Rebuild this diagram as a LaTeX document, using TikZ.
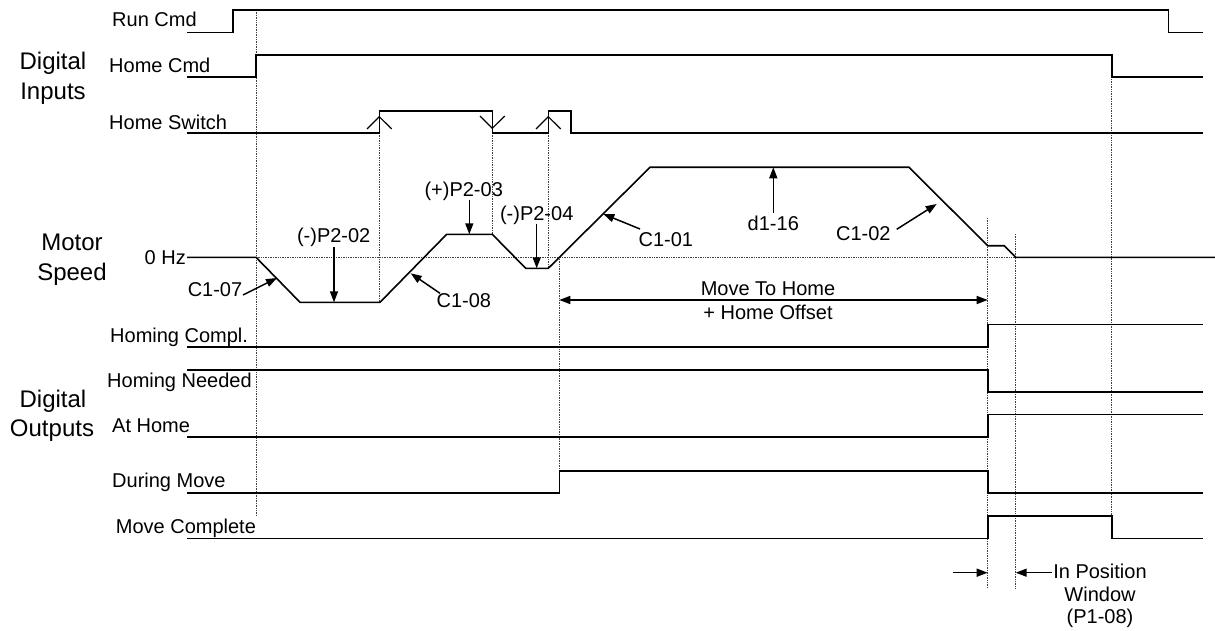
\documentclass[tikz,border=0pt]{standalone}
\usepackage{fontspec}
\setmainfont{Liberation Sans}
\usetikzlibrary{arrows.meta}
\begin{document}
\begin{tikzpicture}[x=1pt,y=-1pt,
  sig/.style={line width=1.6pt, line join=miter},
  guide/.style={line width=0.7pt, densely dotted, black!75},
  lbl/.style={font=\fontsize{20}{22}\selectfont, inner sep=0pt, anchor=base west},
  big/.style={font=\fontsize{24}{26}\selectfont, inner sep=0pt, anchor=base},
  ann/.style={font=\fontsize{20}{22}\selectfont, inner sep=0pt, anchor=base},
  ptr/.style={line width=1.5pt, -{Triangle[length=11pt,width=8pt]}},
  dptr/.style={line width=1.5pt, {Triangle[length=11pt,width=8pt]}-{Triangle[length=11pt,width=8pt]}},
  chev/.style={line width=1.2pt}
]
\useasboundingbox (0,0) rectangle (1215,631);

% ---- group labels ----
\node[big] (din1) at (53,70) {Digital};
\node[big] (din2) at (53,100) {Inputs};
\node[big] (ms1) at (72,250) {Motor};
\node[big] (ms2) at (72,280) {Speed};
\node[big] (dout1) at (53,407.3) {Digital};
\node[big] (dout2) at (52,436.7) {Outputs};

% ---- signal labels ----
\node[lbl] (runcmd) at (112,26.7) {Run Cmd};
\node[lbl] (homecmd) at (109,72.3) {Home Cmd};
\node[lbl] (homesw) at (109,129.3) {Home Switch};
\node[font=\fontsize{20}{22}\selectfont, inner sep=0pt, anchor=base east] (zerohz) at (186,264) {0 Hz};
\node[lbl] (hcompl) at (110,342.7) {Homing Compl.};
\node[lbl] (hneed) at (107,387.3) {Homing Needed};
\node[lbl] (athome) at (112,432.7) {At Home};
\node[lbl] (dmove) at (112,487.5) {During Move};
\node[lbl] (mcompl) at (115.7,533.3) {Move Complete};

% ---- guide lines ----
\draw[guide] (256,10) -- (256,515);
\draw[guide] (379.3,133) -- (379.3,302);
\draw[guide] (492.3,133) -- (492.3,234.3);
\draw[guide] (548.3,133) -- (548.3,268.3);
\draw[guide] (559.3,257.3) -- (559.3,471);
\draw[guide] (987.7,218) -- (987.7,588);
\draw[guide] (1015.7,234) -- (1015.7,588);
\draw[guide] (1111.7,77.3) -- (1111.7,516);
\draw[guide] (256,257.3) -- (1015.7,257.3);

% ---- input signals ----
\draw[sig] (187,32.7) -- (233,32.7) -- (233,10) -- (1168.3,10) -- (1168.3,32.7) -- (1202.7,32.7);
\draw[sig] (187,77.3) -- (256,77.3) -- (256,55.3) -- (1111.7,55.3) -- (1111.7,77.3) -- (1202.7,77.3);
\draw[sig] (187,133.3) -- (379.3,133.3) -- (379.3,111) -- (492.3,111) -- (492.3,133.3) -- (548.3,133.3) -- (548.3,111) -- (571,111) -- (571,133.3) -- (1202.7,133.3);
\draw[chev] (367,129) -- (379.3,116.7) -- (391.7,129);
\draw[chev] (480,116) -- (492.3,128.3) -- (504.7,116);
\draw[chev] (536,129) -- (548.3,116.7) -- (560.7,129);

% ---- motor speed ----
\draw[sig] (187,257.3) -- (256,257.3) -- (300,302.3) -- (380,302.3) -- (446.7,234.3) -- (492.3,234.3) -- (525.7,268.3) -- (548.3,268.3) -- (650,167.3) -- (909,167.3) -- (987.7,245.7) -- (1004.3,245.7) -- (1015.7,257.3) -- (1215,257.3);

% ---- output signals ----
\draw[sig] (187,347) -- (987.7,347) -- (987.7,324.3) -- (1202.7,324.3);
\draw[sig] (187,369.7) -- (987.7,369.7) -- (987.7,391.7) -- (1202.7,391.7);
\draw[sig] (187,436.7) -- (987.7,436.7) -- (987.7,414.3) -- (1202.7,414.3);
\draw[sig] (187,493) -- (559.3,493) -- (559.3,471) -- (987.7,471) -- (987.7,492.7) -- (1202.7,492.7);
\draw[sig] (187,538.3) -- (987.7,538.3) -- (987.7,516) -- (1111.7,516) -- (1111.7,538.3) -- (1202.7,538.3);

% ---- annotations ----
\node[ann] (a0702) at (333.7,242) {(-)P2-02};
\node[ann] (a0203) at (463.7,196.7) {(+)P2-03};
\node[ann] (a0204) at (536.7,221) {(-)P2-04};
\node[ann] (ac108) at (463.8,307.3) {C1-08};
\node[ann] (ac107) at (215,296.7) {C1-07};
\node[ann] (ac101) at (665.8,246.7) {C1-01};
\node[ann] (ad116) at (773.3,230) {d1-16};
\node[ann] (ac102) at (863.3,240.7) {C1-02};
\node[ann] (amth1) at (768,295) {Move To Home};
\node[ann] (amth2) at (768,319.3) {+ Home Offset};
\node[ann] (aipw1) at (1100,578.3) {In Position};
\node[ann] (aipw2) at (1100,601.7) {Window};
\node[ann] (aipw3) at (1100,623) {(P1-08)};

\coordinate (p202s) at (334,246.7);   \coordinate (p202e) at (334,302.3);
\coordinate (p203s) at (469.3,200);   \coordinate (p203e) at (469.3,234.3);
\coordinate (p204s) at (536.7,223.5); \coordinate (p204e) at (536.7,268.3);
\coordinate (c107s) at (243,295);     \coordinate (c107e) at (277,278);
\coordinate (c108s) at (440,293.3);   \coordinate (c108e) at (410.7,273.3);
\coordinate (c101s) at (640,229);     \coordinate (c101e) at (603.3,214);
\coordinate (d116s) at (773.3,212.7); \coordinate (d116e) at (773.3,167.3);
\coordinate (c102s) at (896.7,229.3); \coordinate (c102e) at (936.7,204);
\coordinate (mthl) at (559.3,300);    \coordinate (mthr) at (987.7,300);
\coordinate (ipl0) at (953.3,572.7);  \coordinate (ipl1) at (987.7,572.7);
\coordinate (ipr0) at (1051.7,572.7); \coordinate (ipr1) at (1015.7,572.7);

\draw[ptr] (p202s) -- (p202e);
\draw[ptr] (p203s) -- (p203e);
\draw[ptr] (p204s) -- (p204e);
\draw[ptr] (c107s) -- (c107e);
\draw[ptr] (c108s) -- (c108e);
\draw[ptr] (c101s) -- (c101e);
\draw[ptr] (d116s) -- (d116e);
\draw[ptr] (c102s) -- (c102e);
\draw[dptr] (mthl) -- (mthr);
\draw[ptr] (ipl0) -- (ipl1);
\draw[ptr] (ipr0) -- (ipr1);
\end{tikzpicture}
\end{document}
